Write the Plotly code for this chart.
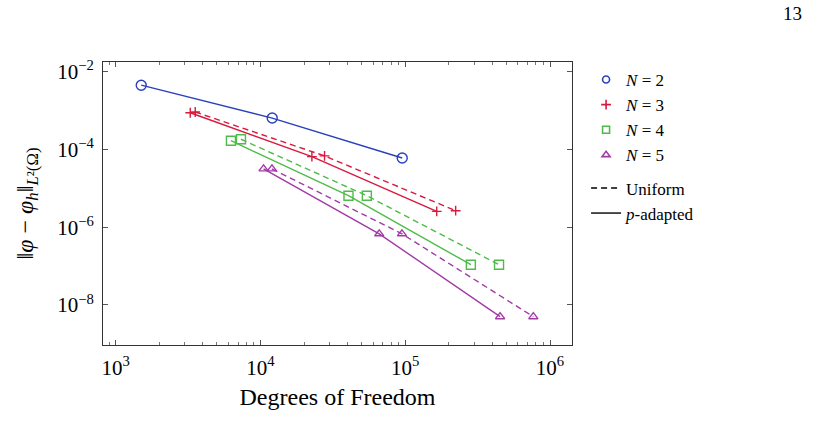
import plotly.graph_objects as go

# ---- data ----
dof_n2 = [1500, 12050, 95300]
err_n2 = [4.56e-3, 6.5e-4, 6.1e-5]

dof_n3_p = [3270, 22650, 165000]
err_n3_p = [8.9e-4, 6.6e-5, 2.57e-6]
dof_n3_u = [3540, 27700, 223000]
err_n3_u = [9.3e-4, 6.9e-5, 2.68e-6]

dof_n4_p = [6250, 40550, 284000]
err_n4_p = [1.70e-4, 6.5e-6, 1.09e-7]
dof_n4_u = [7330, 54300, 444600]
err_n4_u = [1.85e-4, 6.5e-6, 1.09e-7]

dof_n5_p = [10500, 66100, 452000]
err_n5_p = [3.2e-5, 6.8e-7, 5.0e-9]
dof_n5_u = [12000, 94900, 767000]
err_n5_u = [3.2e-5, 6.8e-7, 5.0e-9]

x_tickvals = [1e3, 1e4, 1e5, 1e6]
x_ticktext = ["10<sup>3</sup>", "10<sup>4</sup>", "10<sup>5</sup>", "10<sup>6</sup>"]
y_tickvals = [1e-2, 1e-4, 1e-6, 1e-8]
y_ticktext = ["10<sup>−2</sup>", "10<sup>−4</sup>", "10<sup>−6</sup>", "10<sup>−8</sup>"]

legend_names = ["<i>N</i> = 2", "<i>N</i> = 3", "<i>N</i> = 4", "<i>N</i> = 5"]

BLUE = "#2a3fbd"
RED = "#d81a3e"
GREEN = "#4fbb48"
PURPLE = "#a23aa6"
FONT = "Liberation Serif"

x_minor = [m * 10 ** k for k in range(2, 7) for m in range(2, 10)]

fig = go.Figure()

series = [
    (dof_n2, err_n2, None, None, BLUE, "circle-open", 10),
    (dof_n3_p, err_n3_p, dof_n3_u, err_n3_u, RED, "cross-thin-open", 7),
    (dof_n4_p, err_n4_p, dof_n4_u, err_n4_u, GREEN, "square-open", 9),
    (dof_n5_p, err_n5_p, dof_n5_u, err_n5_u, PURPLE, "triangle-up-open", 8),
]

for xp, yp, xu, yu, col, sym, sz in series:
    if xu is not None:
        fig.add_trace(go.Scatter(
            x=xu, y=yu, mode="lines+markers", showlegend=False,
            line=dict(color=col, width=1.4, dash="6px,4px"),
            marker=dict(symbol=sym, size=sz, color=col, line=dict(width=1.4, color=col)),
        ))
    fig.add_trace(go.Scatter(
        x=xp, y=yp, mode="lines+markers", showlegend=False,
        line=dict(color=col, width=1.4),
        marker=dict(symbol=sym, size=sz, color=col, line=dict(width=1.4, color=col)),
    ))

# legend entries
for (xp, yp, xu, yu, col, sym, sz), name in zip(series, legend_names):
    fig.add_trace(go.Scatter(
        x=[None], y=[None], mode="markers", name=name, legendgroup="a",
        marker=dict(symbol=sym, size=7, color=col, line=dict(width=1.6, color=col)),
    ))
fig.add_trace(go.Scatter(x=[None], y=[None], mode="lines", name="Uniform", legendgroup="b",
                         line=dict(color="black", width=1.4, dash="6px,4px")))
fig.add_trace(go.Scatter(x=[None], y=[None], mode="lines", name="<i>p</i>-adapted", legendgroup="b",
                         line=dict(color="black", width=1.4)))

axis_common = dict(
    showgrid=False, zeroline=False, showline=True, linecolor="#333", linewidth=1,
    mirror="allticks", ticks="inside", ticklen=5, tickcolor="#555",
    tickfont=dict(family=FONT, size=21, color="black"),
)

fig.update_xaxes(
    type="log", range=[2.912, 6.152], tickmode="array",
    tickvals=x_tickvals, ticktext=x_ticktext, ticklabelstandoff=4,
    minor=dict(ticks="inside", ticklen=3, tickcolor="#777", tickmode="array", tickvals=x_minor),
    title=dict(text="Degrees of Freedom", font=dict(family=FONT, size=24, color="black"), standoff=8),
    **axis_common,
)
fig.update_yaxes(
    type="log", range=[-9.03, -1.744], tickmode="array",
    tickvals=y_tickvals, ticktext=y_ticktext, ticklabelstandoff=4,
    title=dict(text="‖<i>φ</i> − <i>φ<sub>h</sub></i>‖<sub><i>L</i>²(Ω)</sub>",
               font=dict(family=FONT, size=24, color="black"), standoff=16),
    **axis_common,
)

fig.add_annotation(text="13", xref="paper", yref="paper", x=1.495, y=1.17,
                   showarrow=False, xanchor="right", yanchor="middle",
                   font=dict(family=FONT, size=19, color="black"))

fig.update_layout(
    width=837, height=438,
    margin=dict(l=103, r=265, t=62, b=93),
    paper_bgcolor="white", plot_bgcolor="white",
    legend=dict(x=1.03, y=1.0, xanchor="left", yanchor="top",
                font=dict(family=FONT, size=17, color="black"),
                tracegroupgap=8, traceorder="grouped", itemwidth=30,
                bgcolor="rgba(0,0,0,0)"),
)

fig.write_html("out.html")
